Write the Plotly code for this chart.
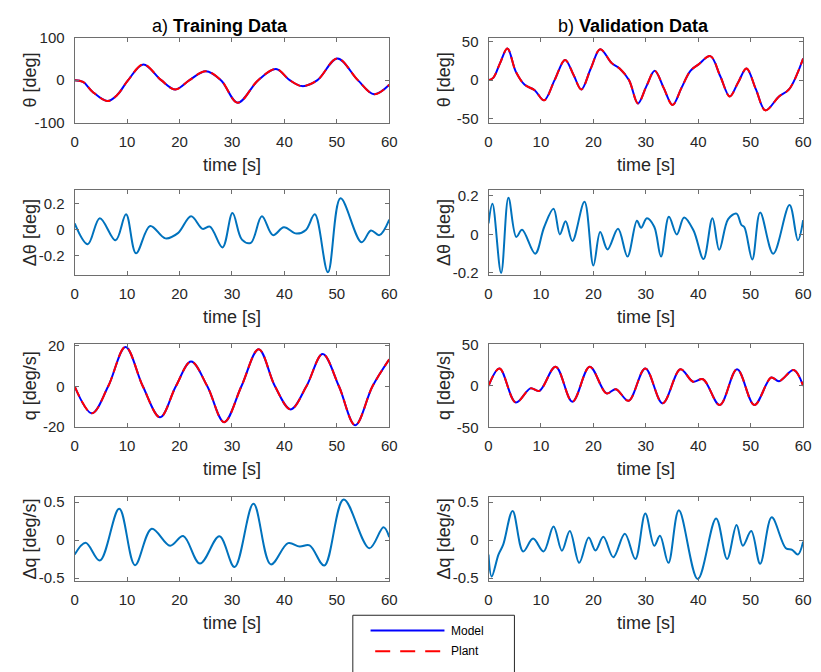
import plotly.graph_objects as go

# ---------------- data ----------------
# a) Training data
t_theta_tr = [0, 1.6, 3.4, 6.3, 8.1, 10.2, 13.1, 16.5, 19.2, 21.9, 25.0, 27.9, 31.1, 35.0, 38.4, 41.0, 43.4, 46.3, 50.1, 54.0, 57.1, 60]
theta_tr = [0, -4, -27, -49, -35, 0, 37, 0, -22, 0, 21, 0, -53, 0, 26, 0, -14, 0, 51, 0, -33, -11]

t_dtheta_tr = [0, 2.5, 4.8, 7.8, 9.8, 11.7, 14.4, 17.3, 19.7, 22.2, 24.4, 25.8, 28.2, 30.1, 31.9, 33.6, 35.7, 37.8, 39.9, 42.3, 44.1, 45.8, 48.3, 50.7, 54.7, 56.5, 58.1, 60]
dtheta_tr = [0.05, -0.11, 0.09, -0.08, 0.12, -0.18, 0.03, -0.065, -0.025, 0.105, 0.008, 0.025, -0.135, 0.13, -0.075, -0.1, 0.105, -0.04, 0.02, -0.028, 0.0, 0.12, -0.325, 0.243, -0.095, -0.005, -0.04, 0.08]

t_q_tr = [0, 3.3, 6.4, 9.7, 13.0, 16.3, 19.3, 22.2, 25.3, 28.5, 31.8, 35.1, 38.2, 41.2, 44.2, 47.3, 50.4, 53.5, 56.8, 60]
q_tr = [0, -13.3, 0, 19.4, 0, -15.3, 0, 12.2, 0, -17.7, 0, 18.3, 0, -11.4, 0, 15.9, 0, -19.2, 0, 13.3]

t_dq_tr = [0, 2.1, 4.8, 8.5, 11.5, 14.7, 18.2, 20.7, 23.9, 27.6, 30.5, 34.1, 37.4, 40.7, 42.9, 44.8, 47.6, 51.3, 56.2, 58.9, 60]
dq_tr = [-0.19, -0.035, -0.27, 0.415, -0.33, 0.15, -0.073, 0.055, -0.31, 0.05, -0.355, 0.48, -0.32, -0.04, -0.085, -0.07, -0.335, 0.535, -0.107, 0.17, 0.04]

# b) Validation data
t_theta_va = [0, 0.9, 2.2, 3.6, 5.2, 6.9, 8.8, 10.6, 12.6, 14.6, 16.2, 17.7, 19.5, 21.3, 23.5, 25.0, 26.8, 28.5, 30.1, 31.7, 33.4, 35.1, 36.8, 38.5, 40.0, 42.3, 44.2, 46.0, 47.6, 49.2, 51.0, 52.8, 55.4, 57.3, 60]
theta_va = [0, 3, 22, 41, 11, -6, -13, -26, 0, 26, 7, -12, 15, 40, 22, 15, 0, -30, -8, 12, -10, -32, -10, 12, 20, 31, 5, -21, -3, 15, -12, -39, -21, -12, 28]

t_dtheta_va = [0, 0.75, 2.4, 3.8, 5.3, 6.4, 8.9, 10.6, 12.4, 13.6, 14.7, 16.0, 18.3, 20.0, 21.3, 22.7, 24.7, 26.5, 28.3, 29.1, 30.2, 31.6, 32.9, 34.4, 35.9, 37.3, 39.1, 41.0, 42.7, 44.0, 45.7, 47.3, 48.2, 48.8, 50.3, 51.8, 54.3, 57.4, 59.0, 60]
dtheta_va = [0.057, 0.159, -0.2, 0.19, -0.013, 0.024, -0.1, 0.037, 0.133, 0.0, 0.068, -0.034, 0.169, -0.162, 0.012, -0.078, 0.029, -0.115, 0.071, 0.034, 0.084, 0.04, -0.115, 0.091, 0.0, 0.088, 0.02, -0.128, 0.084, -0.08, 0.079, 0.108, 0.05, 0.037, -0.13, 0.113, -0.1, 0.152, -0.03, 0.074]

t_q_va = [0, 2.1, 5.2, 8.0, 9.7, 12.8, 16.0, 19.3, 22.5, 24.3, 26.7, 29.9, 33.2, 36.6, 39.0, 40.9, 44.1, 47.4, 50.7, 53.9, 55.4, 58.2, 60]
q_va = [0, 21, -20, -3, -6, 23, -19, 23, -9, -4, -18, 21, -21, 20, 5, 8, -23, 20, -23, 10, 5.6, 19, 0]

t_dq_va = [0, 0.6, 1.9, 2.8, 4.6, 6.6, 8.5, 10.5, 12.4, 14.0, 15.5, 17.3, 19.1, 20.4, 21.9, 23.8, 26.0, 28.0, 29.9, 31.6, 32.7, 34.3, 36.3, 39.9, 43.4, 45.5, 47.3, 48.5, 50.1, 51.8, 54.0, 56.7, 57.9, 59.0, 60]
dq_va = [-0.19, -0.48, -0.19, -0.06, 0.385, -0.15, 0.02, -0.15, 0.18, -0.14, 0.12, -0.3, 0.034, -0.137, 0.043, -0.226, 0.085, -0.248, 0.35, -0.073, 0.056, -0.3, 0.393, -0.513, 0.286, -0.248, 0.2, -0.073, 0.12, -0.312, 0.3, -0.107, -0.128, -0.19, -0.02]

# axis ticks / labels
x_ticks = [0, 10, 20, 30, 40, 50, 60]
x_ticktext = ["0", "10", "20", "30", "40", "50", "60"]
titles = ["a) <b>Training Data</b>", "b) <b>Validation Data</b>"]
ylabels = ["θ [deg]", "Δθ [deg]", "q [deg/s]", "Δq [deg/s]"]
xlabel = "time [s]"
legend_names = ["Model", "Plant"]

# ---------------- styling ----------------
FONT = "Liberation Sans, Arial, Helvetica, sans-serif"
AX = "#262626"
BOX = "#6e6e6e"
BLUE = "#0000FF"
RED = "#FF0000"
ERR = "#0072BD"
W, H = 821, 672

col_x = [(71.7, 391.0), (491.7, 811.0)]
row_y = [(29.3, 116.7), (186.0, 273.3), (344.0, 429.3), (500.7, 587.3)]

# panel specs: (col, row, kind, t, y, range, tickvals, ticktext)
panels = [
    (0, 0, "cmp", t_theta_tr, theta_tr, [-100, 100], [-100, 0, 100], ["-100", "0", "100"]),
    (1, 0, "cmp", t_theta_va, theta_va, [-55, 55], [-50, 0, 50], ["-50", "0", "50"]),
    (0, 1, "err", t_dtheta_tr, dtheta_tr, [-0.35, 0.305], [-0.2, 0, 0.2], ["-0.2", "0", "0.2"]),
    (1, 1, "err", t_dtheta_va, dtheta_va, [-0.213, 0.229], [-0.2, 0, 0.2], ["-0.2", "0", "0.2"]),
    (0, 2, "cmp", t_q_tr, q_tr, [-20.3, 20.7], [-20, 0, 20], ["-20", "0", "20"]),
    (1, 2, "cmp", t_q_va, q_va, [-50, 50], [-50, 0, 50], ["-50", "0", "50"]),
    (0, 3, "err", t_dq_tr, dq_tr, [-0.545, 0.568], [-0.5, 0, 0.5], ["-0.5", "0", "0.5"]),
    (1, 3, "err", t_dq_va, dq_va, [-0.545, 0.568], [-0.5, 0, 0.5], ["-0.5", "0", "0.5"]),
]

fig = go.Figure()
layout = dict(
    width=W, height=H, margin=dict(l=0, r=0, t=0, b=0),
    paper_bgcolor="white", plot_bgcolor="white", showlegend=False,
    font=dict(family=FONT, color=AX, size=15),
)
annotations = []
shapes = []

for i, (c, r, kind, t, y, yr, tv, tt) in enumerate(panels):
    n = i + 1
    xa = "x" if n == 1 else f"x{n}"
    ya = "y" if n == 1 else f"y{n}"
    x0, x1 = col_x[c]
    y0, y1 = row_y[r]
    common = dict(showline=True, linecolor=BOX, linewidth=1, mirror="ticks",
                  ticks="inside", ticklen=4, tickcolor=BOX, tickwidth=1,
                  showgrid=False, zeroline=False,
                  tickfont=dict(family=FONT, size=15, color=AX))
    layout[f"xaxis{n if n > 1 else ''}"] = dict(
        domain=[x0 / W, x1 / W], anchor=ya, range=[0, 60],
        tickvals=x_ticks, ticktext=x_ticktext, ticklabelstandoff=5, **common)
    layout[f"yaxis{n if n > 1 else ''}"] = dict(
        domain=[1 - y1 / H, 1 - y0 / H], anchor=xa, range=yr,
        tickvals=tv, ticktext=tt, ticklabelstandoff=6, **common)
    if kind == "cmp":
        fig.add_trace(go.Scatter(x=t, y=y, mode="lines", xaxis=xa, yaxis=ya,
                                 name=legend_names[0],
                                 line=dict(color=BLUE, width=2, shape="spline", smoothing=1.0)))
        fig.add_trace(go.Scatter(x=t, y=y, mode="lines", xaxis=xa, yaxis=ya,
                                 name=legend_names[1],
                                 line=dict(color=RED, width=2, dash="11px,5px", shape="spline", smoothing=1.0)))
    else:
        fig.add_trace(go.Scatter(x=t, y=y, mode="lines", xaxis=xa, yaxis=ya,
                                 line=dict(color=ERR, width=2, shape="spline", smoothing=1.0)))
    # y label
    annotations.append(dict(text=ylabels[r], x=(x0 - 45) / W, y=1 - (y0 + y1) / 2 / H,
                            xref="paper", yref="paper", showarrow=False, textangle=-90,
                            xanchor="center", yanchor="middle",
                            font=dict(family=FONT, size=18, color=AX)))
    # x label
    annotations.append(dict(text=xlabel, x=(x0 + x1) / 2 / W, y=1 - (y1 + 43) / H,
                            xref="paper", yref="paper", showarrow=False,
                            xanchor="center", yanchor="middle",
                            font=dict(family=FONT, size=18, color=AX)))

# column titles
for c, cx in enumerate([219, 639]):
    annotations.append(dict(text=titles[c], x=cx / W, y=1 - 17 / H, xref="paper", yref="paper",
                            showarrow=False, xanchor="center", yanchor="middle",
                            font=dict(family=FONT, size=18, color="black")))

# legend box (drawn manually, bottom edge runs off the canvas as in the reference)
shapes.append(dict(type="rect", xref="paper", yref="paper",
                   x0=354 / W, x1=518 / W, y0=1 - 700 / H, y1=1 - 622 / H,
                   line=dict(color=AX, width=1), fillcolor="white"))
shapes.append(dict(type="line", xref="paper", yref="paper",
                   x0=372 / W, x1=447 / W, y0=1 - 637.7 / H, y1=1 - 637.7 / H,
                   line=dict(color=BLUE, width=2)))
shapes.append(dict(type="line", xref="paper", yref="paper",
                   x0=376.7 / W, x1=447 / W, y0=1 - 659 / H, y1=1 - 659 / H,
                   line=dict(color=RED, width=2, dash="15px,10px")))
for name, yy in zip(legend_names, [637.7, 659]):
    annotations.append(dict(text=name, x=452 / W, y=1 - yy / H, xref="paper", yref="paper",
                            showarrow=False, xanchor="left", yanchor="middle",
                            font=dict(family=FONT, size=12, color="black")))

layout["annotations"] = annotations
layout["shapes"] = shapes
fig.update_layout(**layout)
fig.write_html("out.html")
